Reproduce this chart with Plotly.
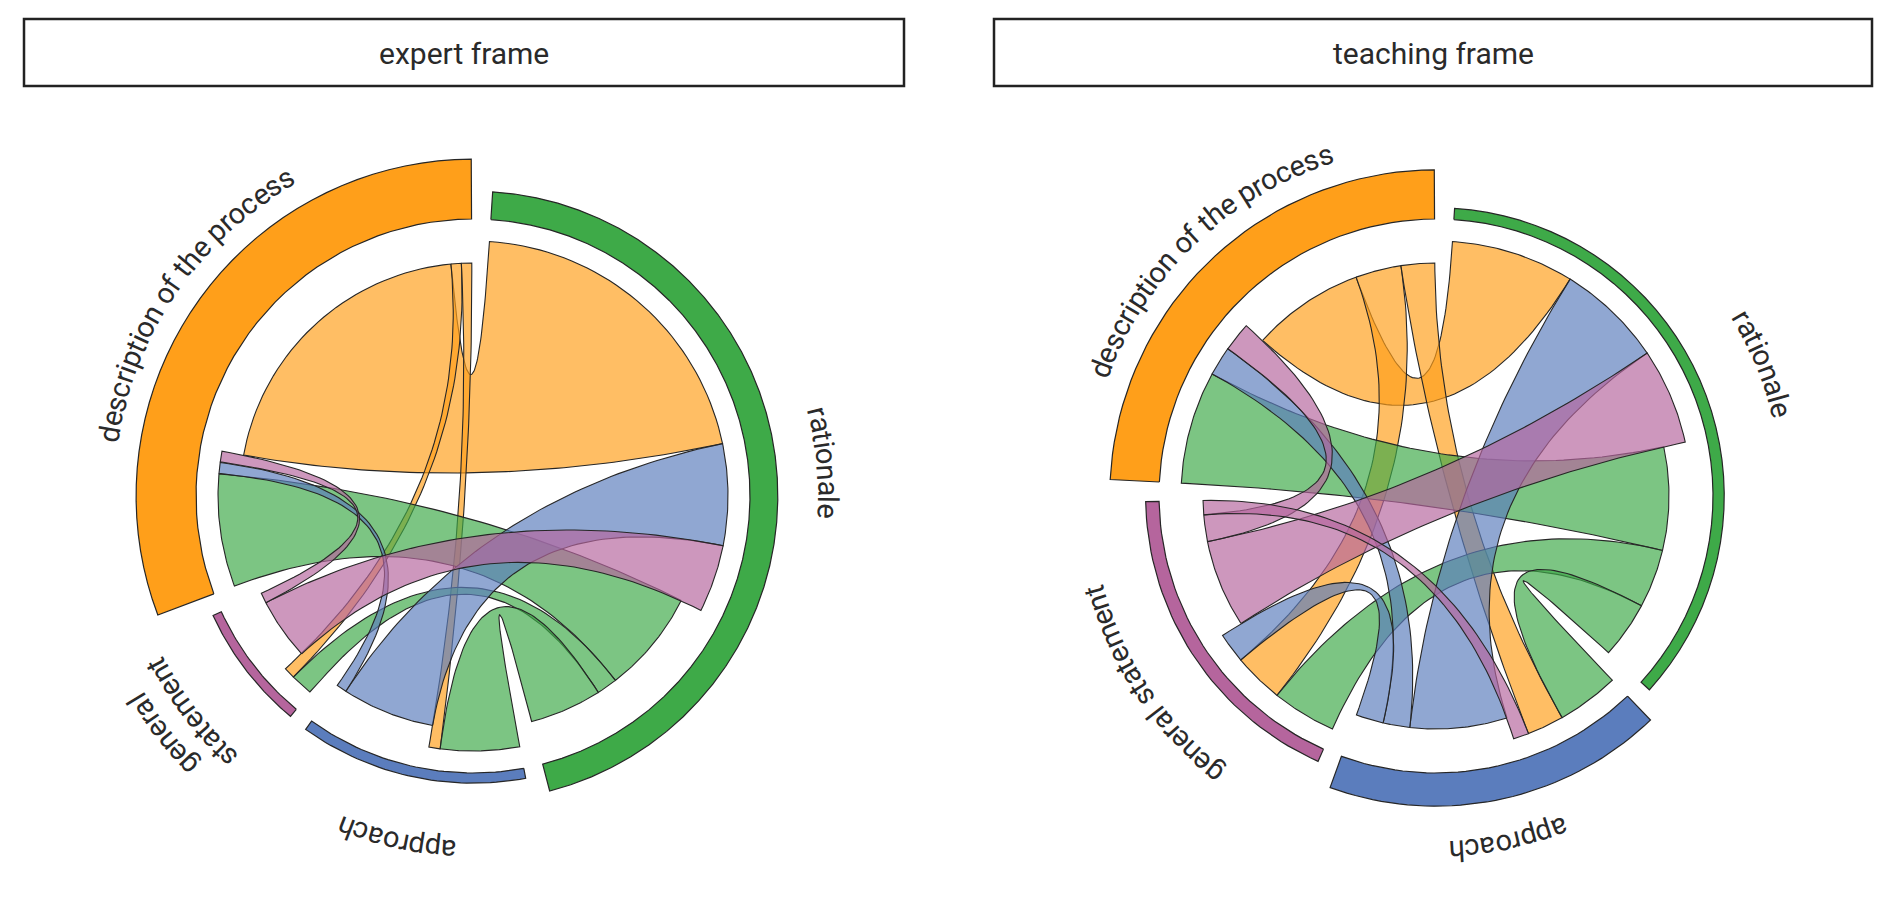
import numpy as np
import plotly.graph_objects as go

# categories, clockwise from 12 o'clock
categories = ["rationale", "approach", "general statement", "description of the process"]
colors = ["#3EAA48", "#5B7DBD", "#B5659D", "#FF9F1A"]

frames = ["expert frame", "teaching frame"]
expert_labels = ["rationale", "approach", "general<br>statement", "description of the process"]
teaching_labels = ["rationale", "approach", "general statement", "description of the process"]

# share of each category (%), shown as the height of the outer track
expert_share = [26, 9.5, 8.5, 56]
teaching_share = [10.5, 31, 12.5, 46]

# transitions between categories
expert_from = ["description of the process", "description of the process", "description of the process",
               "rationale", "rationale", "rationale", "approach", "approach",
               "general statement", "general statement"]
expert_to = ["rationale", "general statement", "approach",
             "description of the process", "general statement", "approach",
             "rationale", "description of the process",
             "rationale", "description of the process"]
expert_value = [29, 1, 1, 10, 2, 7, 9, 1, 6, 1]

teaching_from = ["description of the process", "description of the process", "description of the process",
                 "rationale", "rationale", "rationale",
                 "approach", "approach", "approach",
                 "general statement", "general statement", "general statement"]
teaching_to = ["rationale", "general statement", "approach",
               "description of the process", "general statement", "approach",
               "rationale", "description of the process", "general statement",
               "rationale", "description of the process", "approach"]
teaching_value = [27.8, 11.3, 8.3, 25.5, 14.5, 14, 24, 6.6, 6.8, 21.7, 6.6, 3.5]

# order of link ends inside each sector: (incoming from, outgoing to)
end_order = {
    "rationale": (["description of the process", "approach", "general statement"],
                  ["description of the process", "general statement", "approach"]),
    "approach": (["rationale", "description of the process", "general statement"],
                 ["rationale", "description of the process", "general statement"]),
    "general statement": (["rationale", "description of the process", "approach"],
                          ["rationale", "description of the process", "approach"]),
    "description of the process": (["rationale", "approach", "general statement"],
                                   ["rationale", "general statement", "approach"]),
}

W, H = 1900, 908
OFF = 8  # page body margin of the html
CENTERS = [(473, 496), (1436, 496)]
BOXES = [(24, 904), (994, 1872)]
R_IN, R_TGT, R_SRC = 277, 255, 233
GAP, START = 4.0, 3.7
TRACK_PX = 1.07
FONT = "Roboto"
LINE = "#262626"

# rough Roboto advance widths (em)
ADV = dict(a=.544, b=.56, c=.523, d=.563, e=.528, f=.347, g=.56, h=.551, i=.243, j=.239,
           k=.508, l=.243, m=.876, n=.552, o=.57, p=.56, q=.568, r=.338, s=.516, t=.327,
           u=.551, v=.483, w=.75, x=.495, y=.473, z=.495)
ADV[" "] = .248


def rgba(hx, a):
    hx = hx.lstrip("#")
    return "rgba(%d,%d,%d,%.2f)" % (int(hx[0:2], 16), int(hx[2:4], 16), int(hx[4:6], 16), a)


def polar(cx, cy, r, deg):
    t = np.radians(deg)
    return cx + r * np.sin(t), cy - r * np.cos(t)


def arc(cx, cy, r, a0, a1, n=40):
    return polar(cx, cy, r, np.linspace(a0, a1, n))


def bezier(cx, cy, p0, p2, n=60):
    t = np.linspace(0, 1, n)
    x = (1 - t) ** 2 * p0[0] + 2 * (1 - t) * t * cx + t ** 2 * p2[0]
    y = (1 - t) ** 2 * p0[1] + 2 * (1 - t) * t * cy + t ** 2 * p2[1]
    return x, y


def ribbon(cx, cy, a, b, c, d):
    parts = [arc(cx, cy, R_SRC, a, b),
             bezier(cx, cy, polar(cx, cy, R_SRC, b), polar(cx, cy, R_TGT, c)),
             arc(cx, cy, R_TGT, c, d),
             bezier(cx, cy, polar(cx, cy, R_TGT, d), polar(cx, cy, R_SRC, a))]
    xs = np.concatenate([p[0] for p in parts])
    ys = np.concatenate([p[1] for p in parts])
    return np.append(xs, xs[0]), np.append(ys, ys[0])


def curved_text(cx, cy, text, r, mid_deg, size):
    out = []
    widths = [ADV.get(ch, .55) * size for ch in text]
    total = sum(widths)
    pos = -total / 2
    for ch, w in zip(text, widths):
        s = pos + w / 2
        pos += w
        if ch == " ":
            continue
        ang = mid_deg + np.degrees(s / r)
        x, y = polar(cx, cy, r, ang)
        out.append(dict(x=x, y=y, xref="x", yref="y", text=ch, showarrow=False,
                        xanchor="center", yanchor="middle",
                        textangle=((ang + 180) % 360) - 180,
                        font=dict(family=FONT, size=size, color="#2a2a2a")))
    return out


fig = go.Figure()
annotations = []
shapes = []

frame_data = [
    (expert_labels, expert_share, expert_from, expert_to, expert_value),
    (teaching_labels, teaching_share, teaching_from, teaching_to, teaching_value),
]

for k, (labels, share, src, dst, val) in enumerate(frame_data):
    cx, cy = CENTERS[k]
    links = {(s, t): v for s, t, v in zip(src, dst, val) if v > 0}
    totals = [sum(v for (s, t), v in links.items() if cat in (s, t)) for cat in categories]
    unit = (360 - GAP * len(categories)) / sum(totals)

    # sector positions
    starts, ends = [], []
    ang = START
    for tot in totals:
        starts.append(ang)
        ends.append(ang + tot * unit)
        ang += tot * unit + GAP

    # link end positions
    src_span, dst_span = {}, {}
    for i, cat in enumerate(categories):
        pos = starts[i]
        ins, outs = end_order[cat]
        for other in ins:
            v = links.get((other, cat), 0)
            if v:
                dst_span[(other, cat)] = (pos, pos + v * unit)
                pos += v * unit
        for other in outs:
            v = links.get((cat, other), 0)
            if v:
                src_span[(cat, other)] = (pos, pos + v * unit)
                pos += v * unit

    # outer track
    for i, cat in enumerate(categories):
        h = share[i] * TRACK_PX
        xi, yi = arc(cx, cy, R_IN, starts[i], ends[i])
        xo, yo = arc(cx, cy, R_IN + h, ends[i], starts[i])
        xs = np.concatenate([xi, xo, xi[:1]])
        ys = np.concatenate([yi, yo, yi[:1]])
        fig.add_trace(go.Scatter(x=xs, y=ys, mode="lines", fill="toself",
                                 fillcolor=colors[i], line=dict(color=LINE, width=1.2),
                                 hoverinfo="skip", showlegend=False))

    # links, coloured by source category
    for (s, t), v in links.items():
        a, b = src_span[(s, t)]
        c, d = dst_span[(s, t)]
        xs, ys = ribbon(cx, cy, a, b, c, d)
        fig.add_trace(go.Scatter(x=xs, y=ys, mode="lines", fill="toself",
                                 fillcolor=rgba(colors[categories.index(s)], 0.68),
                                 line=dict(color=LINE, width=1.1),
                                 hoverinfo="skip", showlegend=False, name=f"{s} → {t}"))

    # sector labels, bent along the circle
    for i, cat in enumerate(categories):
        h = share[i] * TRACK_PX
        r_lab = max(355, R_IN + h + 32)
        mid = (starts[i] + ends[i]) / 2
        lines = labels[i].split("<br>")
        if len(lines) == 1:
            annotations += curved_text(cx, cy, lines[0], r_lab, mid, 29)
        else:
            annotations += curved_text(cx, cy, lines[0], r_lab + 38, mid, 29)
            annotations += curved_text(cx, cy, lines[1], r_lab + 4, mid, 29)

    # facet strip
    x0, x1 = BOXES[k]
    shapes.append(dict(type="rect", xref="x", yref="y", x0=x0, x1=x1, y0=19, y1=86,
                       line=dict(color="#222222", width=2.5), fillcolor="white", layer="below"))
    annotations.append(dict(x=(x0 + x1) / 2, y=53, xref="x", yref="y", text=frames[k],
                            showarrow=False, xanchor="center", yanchor="middle",
                            font=dict(family=FONT, size=30, color="#2a2a2a")))

fig.update_layout(
    width=W, height=H, autosize=False,
    margin=dict(l=0, r=0, t=0, b=0),
    paper_bgcolor="white", plot_bgcolor="white",
    xaxis=dict(range=[OFF, W + OFF], visible=False, fixedrange=True),
    yaxis=dict(range=[H + OFF, OFF], visible=False, fixedrange=True),
    shapes=shapes, annotations=annotations,
)

fig.write_html("out.html")
